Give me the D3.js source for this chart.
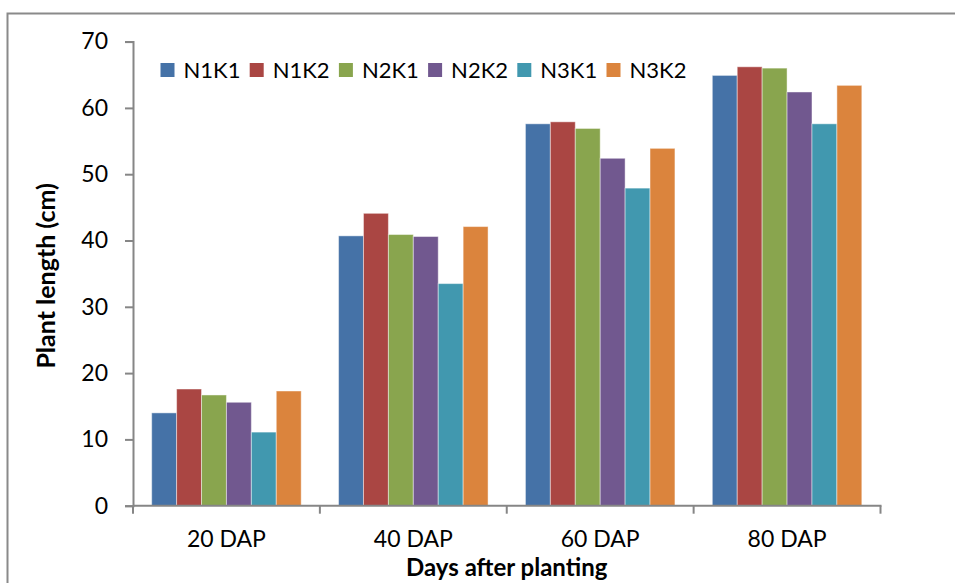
<!DOCTYPE html>
<html>
<head>
<meta charset="utf-8">
<script src="https://cdn.jsdelivr.net/npm/d3@7"></script>
<style>
  html, body { margin: 0; padding: 0; background: #fff; }
  svg { display: block; font-family: Lato, "Open Sans", sans-serif; }
</style>
</head>
<body>
<svg id="chart" width="955" height="583"></svg>
<script>
// Plant length (cm) by sampling date and N×K treatment
const categories = ["20 DAP", "40 DAP", "60 DAP", "80 DAP"];
const seriesNames = ["N1K1", "N1K2", "N2K1", "N2K2", "N3K1", "N3K2"];
const N1K1 = [14.0, 40.7, 57.6, 64.9];
const N1K2 = [17.6, 44.1, 57.9, 66.2];
const N2K1 = [16.7, 40.9, 56.9, 66.0];
const N2K2 = [15.6, 40.6, 52.4, 62.4];
const N3K1 = [11.1, 33.5, 47.9, 57.6];
const N3K2 = [17.3, 42.1, 53.9, 63.4];
const yTicks = [0, 10, 20, 30, 40, 50, 60, 70];
const colors = ["#4572A7", "#AA4643", "#89A54E", "#71588F", "#4198AF", "#DB843D"];

const seriesValues = [N1K1, N1K2, N2K1, N2K2, N3K1, N3K2];

const svg = d3.select("#chart");
const plot = { left: 133, right: 880.5, top: 42, bottom: 505.7 };

// outer chart frame
svg.append("rect")
  .attr("x", 7.5).attr("y", 13.5)
  .attr("width", 960).attr("height", 600)
  .attr("fill", "none").attr("stroke", "#8a8a8a").attr("stroke-width", 2);

const x = d3.scaleBand().domain(categories).range([plot.left, plot.right]).padding(0);
const y = d3.scaleLinear().domain([0, 70]).range([plot.bottom, plot.bottom - 66.3 * 7]);

// bars: gap between groups equals 1.5 bar widths
const barW = x.bandwidth() / (seriesNames.length + 1.5);
const inner = d3.scaleBand().domain(seriesNames)
  .range([barW * 0.75, barW * 0.75 + barW * seriesNames.length]).padding(0);

const rows = [];
categories.forEach((c, ci) => {
  seriesNames.forEach((s, si) => rows.push({ c, s, si, v: seriesValues[si][ci] }));
});

svg.append("g").selectAll("rect")
  .data(rows)
  .join("rect")
  .attr("x", d => x(d.c) + inner(d.s))
  .attr("y", d => y(d.v))
  .attr("width", inner.bandwidth())
  .attr("height", d => y(0) - y(d.v))
  .attr("fill", d => colors[d.si])
  .attr("stroke", "rgba(255,255,255,0.45)")
  .attr("stroke-width", 1);

// y axis
const yAxis = d3.axisLeft(y).tickValues(yTicks).tickSize(8).tickPadding(17);
const gy = svg.append("g").attr("transform", `translate(${plot.left},0)`).call(yAxis);
gy.select(".domain").attr("stroke", "#868686").attr("stroke-width", 2);
gy.selectAll(".tick line").attr("stroke", "#868686").attr("stroke-width", 2);
gy.selectAll(".tick text").attr("font-size", 23).attr("fill", "#000")
  .attr("font-family", "Lato, 'Open Sans', sans-serif");

// x axis with boundary ticks between categories
const xAxis = d3.axisBottom(x).tickSize(0).tickPadding(25);
const gx = svg.append("g").attr("transform", `translate(0,${plot.bottom})`).call(xAxis);
gx.select(".domain").remove();
gx.selectAll(".tick text").attr("font-size", 23).attr("fill", "#000")
  .attr("font-family", "Lato, 'Open Sans', sans-serif");
gx.append("line")
  .attr("x1", plot.left).attr("x2", plot.right + 1)
  .attr("stroke", "#868686").attr("stroke-width", 2);
const bounds = categories.map(c => x(c)).concat([x(categories[categories.length - 1]) + x.bandwidth()]);
gx.selectAll("line.bound").data(bounds).join("line")
  .attr("class", "bound")
  .attr("x1", d => d).attr("x2", d => d)
  .attr("y1", 0).attr("y2", 8)
  .attr("stroke", "#868686").attr("stroke-width", 2);

// axis titles
svg.append("text")
  .attr("x", (plot.left + plot.right) / 2).attr("y", 576)
  .attr("text-anchor", "middle").attr("font-weight", "bold").attr("font-size", 24)
  .text("Days after planting");

svg.append("text")
  .attr("transform", `translate(55,${(plot.top + plot.bottom) / 2 + 2}) rotate(-90)`)
  .attr("text-anchor", "middle").attr("font-weight", "bold").attr("font-size", 25)
  .text("Plant length (cm)");

// legend
const legend = svg.append("g").attr("transform", "translate(160.5,63)");
const item = legend.selectAll("g").data(seriesNames).join("g")
  .attr("transform", (d, i) => `translate(${i * 89.2},0)`);
item.append("rect").attr("width", 14).attr("height", 14)
  .attr("fill", (d, i) => colors[i]);
item.append("text").attr("x", 23).attr("y", 15)
  .attr("font-size", 22).attr("fill", "#000").text(d => d);
</script>
</body>
</html>
